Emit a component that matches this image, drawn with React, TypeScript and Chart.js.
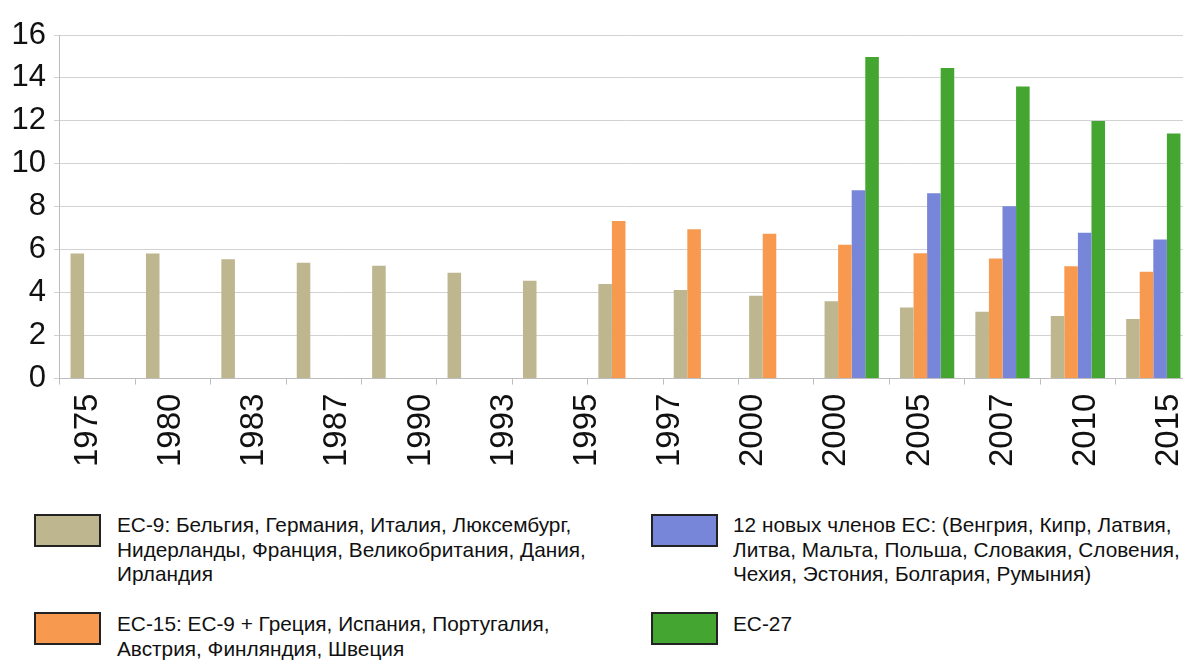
import React, { useEffect, useRef } from "react";
import { Chart, registerables } from "chart.js";

Chart.register(...registerables);

// Bar groups (15 slots on the category axis)
const barGroups = ["1", "2", "3", "4", "5", "6", "7", "8", "9", "10", "11", "12", "13", "14", "15"];
// Tick labels as printed under the axis (14 labels, spaced on their own scale)
const tickLabels = ["1975", "1980", "1983", "1987", "1990", "1993", "1995", "1997", "2000", "2000", "2005", "2007", "2010", "2015"];
// range of the label scale (label index units)
const labelScaleMin = -0.336;
const labelScaleMax = 13.265;

const eu9 = [5.82, 5.82, 5.56, 5.4, 5.26, 4.93, 4.56, 4.4, 4.12, 3.86, 3.6, 3.31, 3.11, 2.92, 2.78];
const eu15 = [null, null, null, null, null, null, null, 7.34, 6.95, 6.75, 6.23, 5.84, 5.59, 5.23, 4.97];
const newMembers = [null, null, null, null, null, null, null, null, null, null, 8.77, 8.63, 8.03, 6.79, 6.48];
const eu27 = [null, null, null, null, null, null, null, null, null, null, 14.98, 14.46, 13.6, 12.0, 11.41];

const seriesNames = [
  ["ЕС-9: Бельгия, Германия, Италия, Люксембург,", "Нидерланды, Франция, Великобритания, Дания,", "Ирландия"],
  ["ЕС-15: ЕС-9 + Греция, Испания, Португалия,", "Австрия, Финляндия, Швеция"],
  ["12 новых членов ЕС: (Венгрия, Кипр, Латвия,", "Литва, Мальта, Польша, Словакия, Словения,", "Чехия, Эстония, Болгария, Румыния)"],
  ["ЕС-27"],
];
const seriesColors = ["#BDB68E", "#F79A50", "#7886DA", "#44A531"];

const FONT = "'Liberation Sans', Arial, Helvetica, sans-serif";

const noSidePadding = (scale: any) => {
  scale.paddingLeft = 0;
  scale.paddingRight = 0;
};

export default function App() {
  const ref = useRef<HTMLCanvasElement>(null);

  useEffect(() => {
    if (!ref.current) return;
    const values = [eu9, eu15, newMembers, eu27];
    const chart = new Chart(ref.current, {
      type: "bar",
      data: {
        labels: barGroups,
        datasets: values.map((v, i) => ({
          label: seriesNames[i].join(" "),
          data: v,
          xAxisID: "x",
          backgroundColor: seriesColors[i],
          borderWidth: 0,
          categoryPercentage: 0.72,
          barPercentage: 1,
        })),
      },
      options: {
        responsive: false,
        animation: false,
        devicePixelRatio: 1,
        layout: { padding: { top: 35, left: 3.5, right: 0, bottom: 0 } },
        plugins: { legend: { display: false }, tooltip: { enabled: false } },
        scales: {
          x: {
            type: "category",
            position: "bottom",
            weight: 0,
            offset: true,
            afterFit: noSidePadding,
            grid: {
              display: true,
              offset: true,
              drawOnChartArea: false,
              drawTicks: true,
              tickLength: 6,
              color: "#bdbdbd",
            },
            border: { display: true, color: "#bdbdbd", width: 1 },
            ticks: { display: false },
          },
          xl: {
            type: "linear",
            axis: "x",
            position: "bottom",
            weight: 1,
            min: labelScaleMin,
            max: labelScaleMax,
            bounds: "data",
            offset: false,
            afterBuildTicks: (scale: any) => {
              scale.ticks = tickLabels.map((_, i) => ({ value: i }));
            },
            afterFit: noSidePadding,
            grid: { display: false, drawTicks: false },
            border: { display: false },
            ticks: {
              autoSkip: false,
              minRotation: 90,
              maxRotation: 90,
              padding: 9,
              color: "#111",
              font: { family: FONT, size: 33 },
              callback: (v: any) => {
                const i = Math.round(Number(v));
                return tickLabels[i] !== undefined ? tickLabels[i] : "";
              },
            },
          },
          y: {
            min: 0,
            max: 16,
            ticks: {
              stepSize: 2,
              padding: 8,
              color: "#111",
              font: { family: FONT, size: 31 },
            },
            grid: { color: "#d2d2d2", tickLength: 6, drawTicks: true },
            border: { display: true, color: "#bdbdbd", width: 1 },
          },
        },
      },
    });
    return () => chart.destroy();
  }, []);

  const legendPos = [
    { left: 34, top: 514, textLeft: 117, textTop: 513 },
    { left: 34, top: 612, textLeft: 117, textTop: 612 },
    { left: 651, top: 514, textLeft: 733, textTop: 513 },
    { left: 651, top: 612, textLeft: 733, textTop: 612 },
  ];

  return (
    <div
      style={{
        position: "absolute",
        left: 0,
        top: 0,
        width: 1183,
        height: 660,
        overflow: "hidden",
        background: "#fff",
        fontFamily: FONT,
      }}
    >
      <canvas ref={ref} width={1191} height={476} style={{ position: "absolute", left: 0, top: 0 }} />
      {seriesNames.map((lines, i) => (
        <React.Fragment key={i}>
          <div
            style={{
              position: "absolute",
              left: legendPos[i].left,
              top: legendPos[i].top,
              width: 67,
              height: 33,
              boxSizing: "border-box",
              border: "2px solid #222",
              background: seriesColors[i],
            }}
          />
          <div
            style={{
              position: "absolute",
              left: legendPos[i].textLeft,
              top: legendPos[i].textTop,
              fontSize: 20.8,
              lineHeight: "24.5px",
              color: "#111",
              whiteSpace: "nowrap",
            }}
          >
            {lines.map((l, j) => (
              <div key={j}>{l}</div>
            ))}
          </div>
        </React.Fragment>
      ))}
    </div>
  );
}
